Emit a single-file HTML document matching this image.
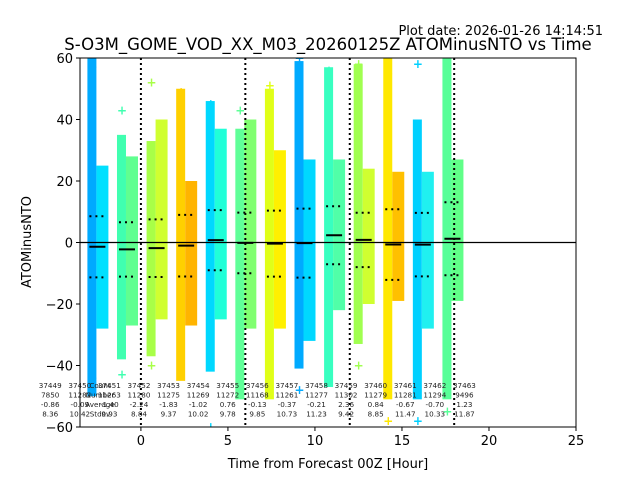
<!DOCTYPE html>
<html><head><meta charset="utf-8"><style>
html,body{margin:0;padding:0;background:#fff;}
svg{display:block;font-family:"DejaVu Sans","Liberation Sans",sans-serif;}
</style></head><body>
<svg id="chart" width="640" height="480" viewBox="0 0 640 480">
<text x="603" y="35" font-size="13" text-anchor="end">Plot date: 2026-01-26 14:14:51</text>
<text x="328" y="50" font-size="16.5" text-anchor="middle">S-O3M_GOME_VOD_XX_M03_20260125Z ATOMinusNTO vs Time</text>
<text x="328" y="468" font-size="13" text-anchor="middle">Time from Forecast 00Z [Hour]</text>
<text x="31" y="242" font-size="13" text-anchor="middle" transform="rotate(-90 31 242)">ATOMinusNTO</text>
<g id="plot"></g>
</svg>
<script>
const cycles=["37449","37450","37451","37452","37453","37454","37455","37456","37457","37458","37459","37460","37461","37462","37463"];
const counts=["7850","11282","11263","11280","11275","11269","11272","11168","11261","11277","11302","11279","11281","11294","9496"];
const means=[-0.86,-0.09,-1.40,-2.24,-1.83,-1.02,0.76,-0.13,-0.37,-0.21,2.36,0.84,-0.67,-0.70,1.23];
const stdevs=[8.36,10.42,9.93,8.84,9.37,10.02,9.78,9.85,10.73,11.23,9.42,8.85,11.47,10.33,11.87];
const groupHours=[-5.9,-4.2,-2.5,-0.8,0.9,2.6,4.3,6.0,7.7,9.4,11.1,12.8,14.5,16.2,17.9];
const tallMax=[null,null,60,35,33,50,46,37,50,59,57,58,60,40,60];
const tallMin=[null,null,-50,-38,-37,-45,-42,-51,-51,-41,-47,-33,-51,-51,-51];
const shortMax=[null,null,25,28,40,20,37,40,30,27,27,24,23,23,27];
const shortMin=[null,null,-28,-27,-25,-27,-25,-28,-28,-32,-22,-20,-19,-28,-19];
const tallColor=["","","#00aaff","#40ffb0","#a8ff48","#ffd000","#00d8ff","#60ff98","#e0ff18","#00aaff","#38ffc0","#a0ff50","#ffe800","#00d0ff","#58ff98"];
const shortColor=["","","#00e0ff","#60ff90","#d0ff30","#ffb400","#20ffd8","#80ff70","#fff000","#00d8ff","#50ffa8","#d0ff30","#ffc000","#20f0f0","#60ff88"];
const outHi=[null,null,57,43,52,49,45,43,51,60,56,58,55,58,60];
const outLo=[null,null,-44,-43,-40,-40,-60,-48,-47,-48,-40,-40,-58,-58,-55];
const xTicks=[0,5,10,15,20,25];
const yTicks=[-60,-40,-20,0,20,40,60];
const vLines=[0,6,12,18];

const L=80,R=576,T=58,B=427,X0=-3.5,X1=25,Y0=-60,Y1=60;
const sx=v=>L+(v-X0)/(X1-X0)*(R-L);
const sy=v=>B-(v-Y0)/(Y1-Y0)*(B-T);
const NS="http://www.w3.org/2000/svg";
const plot=document.getElementById('plot');
function mk(tag,a,parent){const e=document.createElementNS(NS,tag);for(const k in a)e.setAttribute(k,a[k]);(parent||plot).appendChild(e);return e;}
const defs=mk('defs',{});
const clip=mk('clipPath',{id:'pc'},defs);mk('rect',{x:L,y:T,width:R-L,height:B-T},clip);
const data=mk('g',{'clip-path':'url(#pc)'});



for(let i=0;i<cycles.length;i++){
  if(tallMax[i]===null)continue;
  const cx=sx(groupHours[i]);
  const g=mk('g',{},data);
  
  
  const r1=mk('rect',{x:cx-10,y:sy(tallMax[i]),width:9,height:sy(tallMin[i])-sy(tallMax[i]),fill:tallColor[i]},g);
  
  
  const r2=mk('rect',{x:cx-1,y:sy(shortMax[i]),width:12,height:sy(shortMin[i])-sy(shortMax[i]),fill:shortColor[i]},g);
  
  
  [outHi[i],outLo[i]].forEach((v,k)=>{
    const p=mk('text',{x:cx-5,y:sy(v)+4,'font-size':12,'text-anchor':'middle',fill:tallColor[i],'font-weight':'bold'},g);
    p.textContent='+';
    
    
  });
  const m=mk('line',{x1:cx-8,x2:cx+8,y1:sy(means[i]),y2:sy(means[i]),stroke:'#000','stroke-width':2},g);
  
  
  [means[i]+stdevs[i],means[i]-stdevs[i]].forEach(v=>{
    const s=mk('line',{x1:cx-8,x2:cx+8,y1:sy(v),y2:sy(v),stroke:'#000','stroke-width':2,'stroke-dasharray':'2 4'},g);
    
    
  });
}
vLines.forEach(v=>{
  const l=mk('line',{x1:sx(v),x2:sx(v),y1:T,y2:B,stroke:'#000','stroke-width':2,'stroke-dasharray':'2 3'},data);
  
  
});
const zl=mk('line',{x1:L,x2:R,y1:sy(0),y2:sy(0),stroke:'#000','stroke-width':1.2},data);



const st=mk('g',{'font-size':7.2,fill:'#222','text-anchor':'middle'});


for(let i=0;i<cycles.length;i++){
  const cx=sx(groupHours[i])+12;
  const rows=[cycles[i],counts[i],means[i].toFixed(2),stdevs[i].toFixed(2)];
  rows.forEach((r,k)=>{const t=mk('text',{x:cx,y:388+k*9.5},st);t.textContent=r;});
}
["Count","Number","Average","Stdev"].forEach((r,k)=>{const t=mk('text',{x:100,y:388+k*9.5},st);t.textContent=r;});

const fr=mk('rect',{x:L,y:T,width:R-L,height:B-T,fill:'none',stroke:'#000','stroke-width':1});


const xa=mk('g',{'font-size':13,'text-anchor':'middle'});


xTicks.forEach(v=>{mk('line',{x1:sx(v),x2:sx(v),y1:B,y2:B+4,stroke:'#000'},xa);const t=mk('text',{x:sx(v),y:B+18},xa);t.textContent=v;});
const ya=mk('g',{'font-size':13,'text-anchor':'end'});


yTicks.forEach(v=>{mk('line',{x1:L-4,x2:L,y1:sy(v),y2:sy(v),stroke:'#000'},ya);const t=mk('text',{x:L-7,y:sy(v)+5},ya);t.textContent=(v<0?'\u2212'+(-v):v);});
</script>
</body></html>
